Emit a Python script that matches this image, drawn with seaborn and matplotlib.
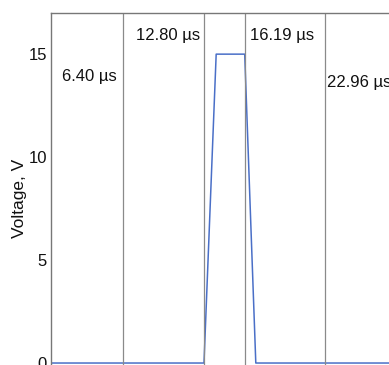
import numpy as np
import pandas as pd
import seaborn as sns
import matplotlib.pyplot as plt

# pulse waveform (time in µs, voltage in V)
time_us = [0.0, 12.95, 13.95, 16.29, 17.2, 30.0]
voltage = [0, 0, 15, 15, 0, 0]

# cursor markers
cursor_t = [6.33, 12.93, 16.29, 22.86]
cursor_labels = ["6.40 µs", "12.80 µs", "16.19 µs", "22.96 µs"]
label_x = [5.8, 12.6, 16.7, 23.02]
label_y = [13.9, 15.9, 15.9, 13.6]
label_ha = ["right", "right", "left", "left"]

sns.set_style("white")
plt.rcParams["font.family"] = ["Liberation Sans", "DejaVu Sans"]

fig = plt.figure(figsize=(3.89, 3.65), dpi=100)
ax = fig.add_axes([51 / 389, -0.051, 0.9276, 1.0155])

df = pd.DataFrame({"t": time_us, "v": voltage})
sns.lineplot(data=df, x="t", y="v", ax=ax, color="#4a6fc7", linewidth=1.1)

for t in cursor_t:
    ax.axvline(t, color="#8a8a8a", linewidth=0.9)

for x, y, s, ha in zip(label_x, label_y, cursor_labels, label_ha):
    ax.text(x, y, s, ha=ha, va="center", fontsize=12, color="#111111")

ax.set_xlim(0.4, 30)
ax.set_ylim(-1, 17)
ax.set_yticks([0, 5, 10, 15])
ax.set_xticks([])
ax.tick_params(axis="y", direction="in", length=2, width=0.6, color="#999999",
               labelsize=12, pad=3, labelcolor="#111111")
ax.set_ylabel("Voltage, V", fontsize=12.5, color="#111111", labelpad=1)
ax.set_xlabel("")
for side in ["left", "top"]:
    ax.spines[side].set_color("#777777")
    ax.spines[side].set_linewidth(1.0)
ax.spines["right"].set_visible(False)
ax.spines["bottom"].set_visible(False)

fig.savefig("out.png", dpi=100)
